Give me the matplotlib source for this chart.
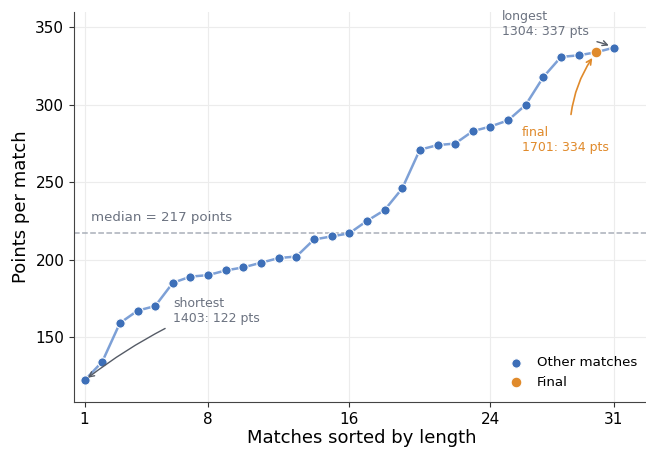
import numpy as np
import matplotlib
matplotlib.use('Agg')
import matplotlib.pyplot as plt

# points per match, matches sorted by length (1 = shortest)
rank = np.arange(1, 32)
points = [122, 134, 159, 167, 170, 185, 189, 190, 193, 195, 198, 201, 202,
          213, 215, 217, 225, 232, 246, 271, 274, 275, 283, 286, 290, 300,
          318, 331, 332, 334, 337]
final_rank = 30
median_pts = 217
xticks = [1, 8, 16, 24, 31]
yticks = [150, 200, 250, 300, 350]

blue = '#3d6fb8'
orange = '#e08a2b'
gray = '#6b7280'

fig = plt.figure(figsize=(6.46, 4.5), dpi=100)
ax = fig.add_axes([0.1146, 0.1067, 0.8904, 0.8666])

pts = np.array(points)
is_final = rank == final_rank

ax.plot(rank, pts, color='#7da0d6', lw=1.8, zorder=2)
ax.scatter(rank[~is_final], pts[~is_final], s=45, color=blue,
           edgecolor='white', linewidth=0.8, zorder=3, label='Other matches')
ax.scatter(rank[is_final], pts[is_final], s=60, color=orange,
           edgecolor='white', linewidth=0.8, zorder=4, label='Final')

ax.axhline(median_pts, color='#a9afb9', ls='--', lw=1.1, zorder=1)
ax.text(1.35, median_pts + 6, 'median = %d points' % median_pts,
        color=gray, fontsize=9.6, va='bottom')

ax.annotate('shortest\n1403: %d pts' % pts[0], xy=(1, pts[0]),
            xytext=(6.0, 160), color=gray, fontsize=9,
            arrowprops=dict(arrowstyle='->', color='#555b66', lw=1,
                            connectionstyle='arc3,rad=0.05',
                            relpos=(0, 0), shrinkA=4, shrinkB=3))
ax.annotate('longest\n1304: %d pts' % pts[-1], xy=(31, pts[-1]),
            xytext=(24.65, 345), color=gray, fontsize=9,
            arrowprops=dict(arrowstyle='->', color='#555b66', lw=1,
                            connectionstyle='arc3,rad=-0.1',
                            relpos=(0.8, 0), shrinkA=4, shrinkB=4))
ax.annotate('final\n1701: %d pts' % pts[final_rank - 1],
            xy=(final_rank, pts[final_rank - 1]),
            xytext=(25.8, 270.5), color=orange, fontsize=9,
            arrowprops=dict(arrowstyle='->', color=orange, lw=1.2,
                            connectionstyle='arc3,rad=-0.15',
                            relpos=(0.55, 1.0), shrinkA=6, shrinkB=5))

ax.set_xlim(0.4, 33)
ax.set_ylim(108, 360)
ax.set_xticks(xticks)
ax.set_yticks(yticks)
ax.tick_params(labelsize=11, color='#333333')
ax.grid(color='#ececec', lw=0.8)
ax.set_axisbelow(True)
for s in ['top', 'right']:
    ax.spines[s].set_visible(False)
for s in ['left', 'bottom']:
    ax.spines[s].set_color('#444444')
ax.set_xlabel('Matches sorted by length', fontsize=13, labelpad=2)
ax.set_ylabel('Points per match', fontsize=13)

ax.legend(loc='lower right', frameon=False, fontsize=9.6,
          bbox_to_anchor=(1.0, 0.003), handletextpad=0.6,
          labelspacing=0.5)

fig.savefig('out.png', dpi=100)
